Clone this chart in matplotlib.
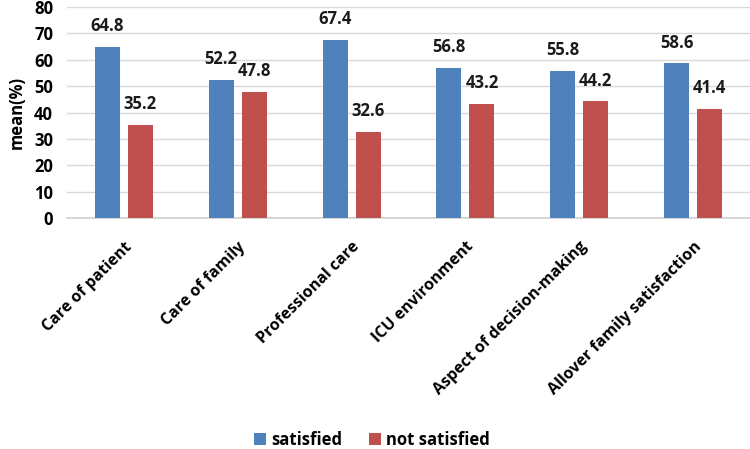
import matplotlib
matplotlib.use("Agg")
import matplotlib.pyplot as plt
import numpy as np

categories = ["Care of patient", "Care of family", "Professional care",
              "ICU environment", "Aspect of decision-making", "Allover family satisfaction"]
satisfied = [64.8, 52.2, 67.4, 56.8, 55.8, 58.6]
not_satisfied = [35.2, 47.8, 32.6, 43.2, 44.2, 41.4]
yticks = [0, 10, 20, 30, 40, 50, 60, 70, 80]

plt.rcParams['font.family'] = ['Open Sans', 'DejaVu Sans']

fig = plt.figure(figsize=(7.5, 4.49), dpi=100)
ax = fig.add_axes([67/750, 1-218/449, (750-67)/750, (218-7)/449])

x = np.arange(len(categories))
w = 0.22
off = 0.145
b1 = ax.bar(x - off, satisfied, w, color="#4F81BD", label="satisfied", zorder=3)
b2 = ax.bar(x + off, not_satisfied, w, color="#C0504D", label="not satisfied", zorder=3)

for rects, vals in ((b1, satisfied), (b2, not_satisfied)):
    for rect, v in zip(rects, vals):
        ax.text(rect.get_x() + rect.get_width()/2, v + 4.5, f"{v}", ha="center", va="bottom",
                fontsize=12, fontweight="bold", color="#1a1a1a")

ax.set_xlim(-0.5, len(categories) - 0.5)
ax.set_ylim(0, 80)
ax.set_yticks(yticks)
ax.set_yticklabels([str(t) for t in yticks], fontsize=12, fontweight="bold")
ax.set_xticks(x)
ax.set_xticklabels(categories, rotation=45, ha="right", rotation_mode="anchor",
                   fontsize=11.5, fontweight="bold")
ax.tick_params(axis="y", length=0, pad=10)
ax.tick_params(axis="x", length=0, pad=15)
ax.set_ylabel("mean(%)", fontsize=12, fontweight="bold", labelpad=6)

ax.grid(axis="y", color="#d9d9d9", linewidth=1, zorder=0)
for s in ["top", "right", "left"]:
    ax.spines[s].set_visible(False)
ax.spines["bottom"].set_color("#d0d0d0")
ax.spines["bottom"].set_linewidth(1.2)

fig.legend(handles=[b1, b2], labels=["satisfied", "not satisfied"], loc="center",
           bbox_to_anchor=(372/750, 1-440/449), ncol=2, frameon=False,
           prop={"weight": "bold", "size": 12}, handlelength=0.75, handleheight=0.75,
           handletextpad=0.3, columnspacing=1.6)

fig.savefig("out.png", dpi=100)
